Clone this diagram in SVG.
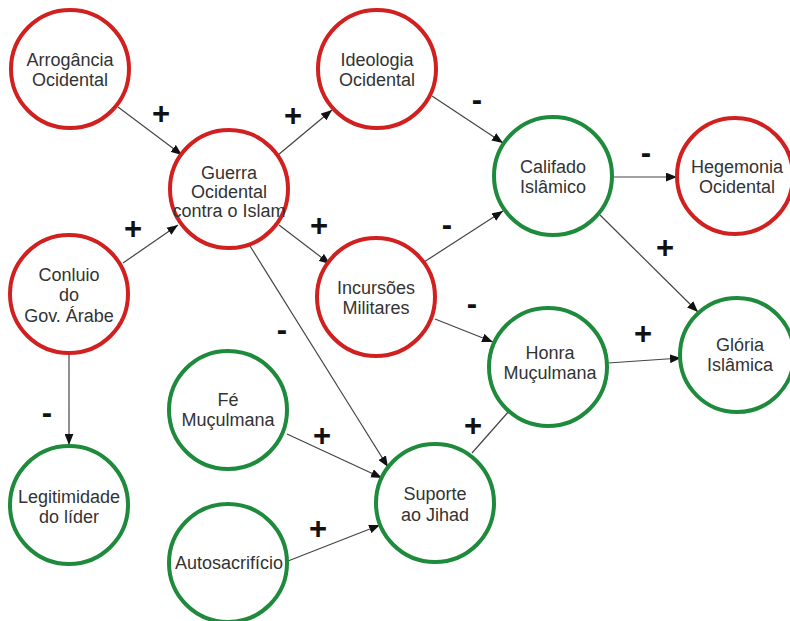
<svg xmlns="http://www.w3.org/2000/svg" width="790" height="621" viewBox="0 0 790 621">
<defs>
<style>
.red{fill:#fff;stroke:#d0201f;stroke-width:4}
.grn{fill:#fff;stroke:#1e8a3b;stroke-width:4}
.t{font-family:"Liberation Sans",Arial,sans-serif;font-size:18px;fill:#333;text-anchor:middle}
.e{stroke:#444;stroke-width:1.2;fill:none}
.s{font-family:"Liberation Sans",Arial,sans-serif;font-size:31px;font-weight:bold;fill:#111;text-anchor:middle}
</style>
<marker id="a" viewBox="0 0 10 8" refX="10" refY="4" markerWidth="11" markerHeight="9" markerUnits="userSpaceOnUse" orient="auto">
<path d="M0,0 L10,4 L0,8 Z" fill="#111"/>
</marker>
</defs>
<rect width="790" height="621" fill="#fff"/>
<g id="connectors">
<line class="e" x1="118" y1="107" x2="182" y2="155" marker-end="url(#a)"/>
<line class="e" x1="123" y1="263" x2="178" y2="225" marker-end="url(#a)"/>
<line class="e" x1="278" y1="155" x2="332" y2="110" marker-end="url(#a)"/>
<line class="e" x1="279" y1="225" x2="330" y2="264" marker-end="url(#a)"/>
<line class="e" x1="250" y1="246" x2="388" y2="467" marker-end="url(#a)"/>
<line class="e" x1="432" y1="96" x2="503" y2="143" marker-end="url(#a)"/>
<line class="e" x1="424" y1="262" x2="503" y2="211" marker-end="url(#a)"/>
<line class="e" x1="435" y1="319" x2="493" y2="342" marker-end="url(#a)"/>
<line class="e" x1="613" y1="177" x2="677" y2="177" marker-end="url(#a)"/>
<line class="e" x1="600" y1="215" x2="698" y2="312" marker-end="url(#a)"/>
<line class="e" x1="608" y1="363" x2="681" y2="358" marker-end="url(#a)"/>
<line class="e" x1="472" y1="453" x2="510" y2="410"/>
<line class="e" x1="287" y1="434" x2="382" y2="478" marker-end="url(#a)"/>
<line class="e" x1="288" y1="561" x2="380" y2="525" marker-end="url(#a)"/>
<line class="e" x1="69" y1="354" x2="69" y2="445" marker-end="url(#a)"/>
<text class="s" x="161" y="124">+</text>
<text class="s" x="133" y="239">+</text>
<text class="s" x="293" y="126">+</text>
<text class="s" x="319" y="236">+</text>
<text class="s" x="282" y="340">-</text>
<text class="s" x="477" y="110">-</text>
<text class="s" x="447" y="235">-</text>
<text class="s" x="472" y="314">-</text>
<text class="s" x="646" y="163">-</text>
<text class="s" x="665" y="258">+</text>
<text class="s" x="643" y="344">+</text>
<text class="s" x="473" y="436">+</text>
<text class="s" x="322" y="446">+</text>
<text class="s" x="318" y="539">+</text>
<text class="s" x="47" y="423">-</text>
</g>
<g id="arrogancia"><circle class="red" cx="70" cy="69" r="59"/><text class="t" x="70" y="66">Arrogância</text><text class="t" x="70" y="86">Ocidental</text></g>
<g id="guerra"><circle class="red" cx="229" cy="189" r="59"/><text class="t" x="229" y="179">Guerra</text><text class="t" x="229" y="198">Ocidental</text><text class="t" x="229" y="217">contra o Islam</text></g>
<g id="ideologia"><circle class="red" cx="377" cy="69" r="59"/><text class="t" x="377" y="66">Ideologia</text><text class="t" x="377" y="86">Ocidental</text></g>
<g id="califado"><circle class="grn" cx="553" cy="176" r="59"/><text class="t" x="553" y="173">Califado</text><text class="t" x="553" y="193">Islâmico</text></g>
<g id="hegemonia"><circle class="red" cx="735" cy="176" r="58"/><text class="t" x="737" y="173">Hegemonia</text><text class="t" x="737" y="193">Ocidental</text></g>
<g id="conluio"><circle class="red" cx="69" cy="294" r="59"/><text class="t" x="69" y="281">Conluio</text><text class="t" x="69" y="301">do</text><text class="t" x="69" y="322">Gov. Árabe</text></g>
<g id="incursoes"><circle class="red" cx="376" cy="297" r="59"/><text class="t" x="376" y="294">Incursões</text><text class="t" x="376" y="314">Militares</text></g>
<g id="honra"><circle class="grn" cx="548" cy="367" r="59"/><text class="t" x="550" y="359">Honra</text><text class="t" x="550" y="379">Muçulmana</text></g>
<g id="gloria"><circle class="grn" cx="737" cy="355" r="57"/><text class="t" x="740" y="351">Glória</text><text class="t" x="740" y="371">Islâmica</text></g>
<g id="fe"><circle class="grn" cx="228" cy="410" r="59"/><text class="t" x="228" y="406">Fé</text><text class="t" x="228" y="426">Muçulmana</text></g>
<g id="legitimidade"><circle class="grn" cx="69" cy="505" r="59"/><text class="t" x="69" y="503">Legitimidade</text><text class="t" x="69" y="523">do líder</text></g>
<g id="suporte"><circle class="grn" cx="435" cy="503" r="59"/><text class="t" x="435" y="500">Suporte</text><text class="t" x="435" y="521">ao Jihad</text></g>
<g id="autosacrificio"><circle class="grn" cx="228" cy="563" r="59"/><text class="t" x="229" y="569">Autosacrifício</text></g>
</svg>
